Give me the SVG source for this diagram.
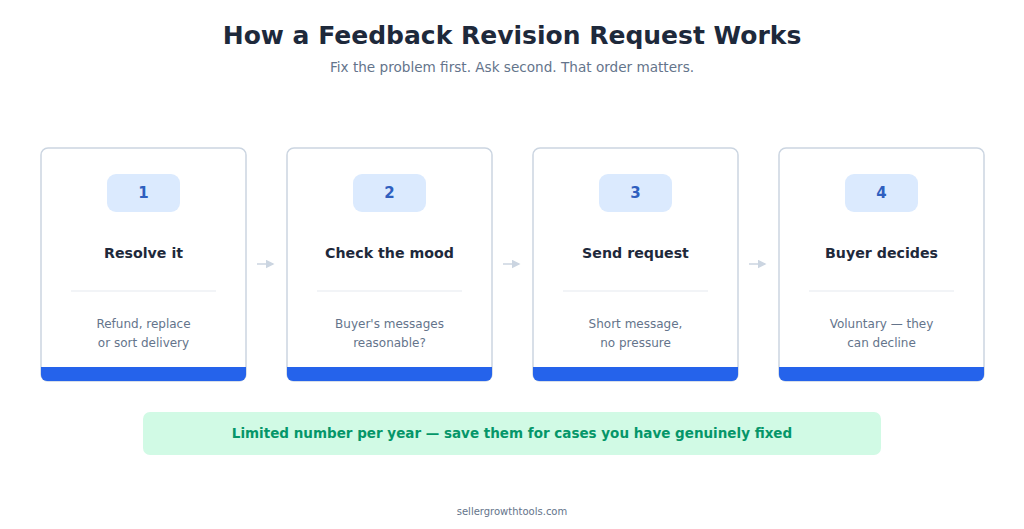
<svg xmlns="http://www.w3.org/2000/svg" width="1024" height="529" viewBox="0 0 1024 529">
<style>
text{font-family:"DejaVu Sans",sans-serif;text-anchor:middle}
.card{fill:#fff;stroke:#cbd5e1;stroke-width:1.5}
.bar{fill:#2563eb}
.badge{fill:#dbeafe}
.num{font-size:15px;font-weight:bold;fill:#2f5fbf}
.ttl{font-size:14.2px;font-weight:bold;fill:#1e293b}
.desc{font-size:12px;fill:#64748b}
.sep{stroke:#e5e9ef;stroke-width:1}
.arr{stroke:#cbd5e1;stroke-width:1.5;fill:none}
</style>
<defs><marker id="ah" markerWidth="6" markerHeight="6" refX="5" refY="3" orient="auto"><path d="M0,0L6,3L0,6z" fill="#cbd5e1"/></marker></defs>
<rect width="1024" height="529" fill="#fff"/>
<text x="512" y="44" style="font-size:25px;font-weight:bold;fill:#1e293b">How a Feedback Revision Request Works</text>
<text x="512" y="72" style="font-size:13.6px;fill:#64748b">Fix the problem first. Ask second. That order matters.</text>
<g id="n1"><rect class="card" x="41" y="148" width="205" height="233" rx="7"/><path class="bar" d="M41,367h205v8a6,6 0 0 1 -6,6h-193a6,6 0 0 1 -6,-6z"/><rect class="badge" x="107" y="174" width="73" height="38" rx="9"/><text class="num" x="143.5" y="198">1</text><text class="ttl" x="143.5" y="258">Resolve it</text><line class="sep" x1="71" y1="291" x2="216" y2="291"/><text class="desc" x="143.5" y="328">Refund, replace</text><text class="desc" x="143.5" y="347">or sort delivery</text></g>
<g id="n2"><rect class="card" x="287" y="148" width="205" height="233" rx="7"/><path class="bar" d="M287,367h205v8a6,6 0 0 1 -6,6h-193a6,6 0 0 1 -6,-6z"/><rect class="badge" x="353" y="174" width="73" height="38" rx="9"/><text class="num" x="389.5" y="198">2</text><text class="ttl" x="389.5" y="258">Check the mood</text><line class="sep" x1="317" y1="291" x2="462" y2="291"/><text class="desc" x="389.5" y="328">Buyer's messages</text><text class="desc" x="389.5" y="347">reasonable?</text></g>
<g id="n3"><rect class="card" x="533" y="148" width="205" height="233" rx="7"/><path class="bar" d="M533,367h205v8a6,6 0 0 1 -6,6h-193a6,6 0 0 1 -6,-6z"/><rect class="badge" x="599" y="174" width="73" height="38" rx="9"/><text class="num" x="635.5" y="198">3</text><text class="ttl" x="635.5" y="258">Send request</text><line class="sep" x1="563" y1="291" x2="708" y2="291"/><text class="desc" x="635.5" y="328">Short message,</text><text class="desc" x="635.5" y="347">no pressure</text></g>
<g id="n4"><rect class="card" x="779" y="148" width="205" height="233" rx="7"/><path class="bar" d="M779,367h205v8a6,6 0 0 1 -6,6h-193a6,6 0 0 1 -6,-6z"/><rect class="badge" x="845" y="174" width="73" height="38" rx="9"/><text class="num" x="881.5" y="198">4</text><text class="ttl" x="881.5" y="258">Buyer decides</text><line class="sep" x1="809" y1="291" x2="954" y2="291"/><text class="desc" x="881.5" y="328">Voluntary — they</text><text class="desc" x="881.5" y="347">can decline</text></g>
<g id="connectors"><line class="arr" x1="257" y1="264" x2="273" y2="264" marker-end="url(#ah)"/><line class="arr" x1="503" y1="264" x2="519" y2="264" marker-end="url(#ah)"/><line class="arr" x1="749" y1="264" x2="765" y2="264" marker-end="url(#ah)"/></g>
<g id="note"><rect x="143" y="412" width="738" height="43" rx="7" fill="#d1fae5"/><text x="512" y="438" style="font-size:13.5px;font-weight:bold;fill:#059669">Limited number per year — save them for cases you have genuinely fixed</text></g>
<text x="512" y="515" style="font-size:10px;fill:#64748b">sellergrowthtools.com</text>
</svg>
